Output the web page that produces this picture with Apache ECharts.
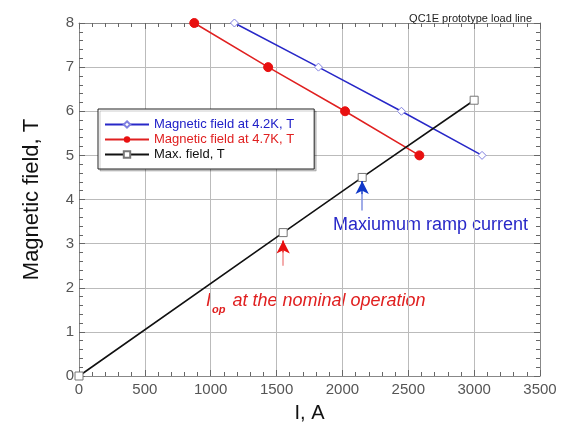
<!DOCTYPE html>
<html lang="en">
<head>
    <meta charset="UTF-8">
    <title>QC1E prototype load line</title>
    <script src="https://cdn.jsdelivr.net/npm/echarts@6/dist/echarts.min.js"></script>
    <style>
        html, body { margin: 0; padding: 0; background: #fff; }
    </style>
</head>
<body>
<div id="main" style="width: 569px;height:426px;"></div>

<script type="text/javascript">
    // data
    var current42 = [1180, 1818, 2448, 3060];
    var field42 = [8, 7, 6, 5];
    var current47 = [875, 1436, 2020, 2584];
    var field47 = [8, 7, 6, 5];
    var currentMax = [0, 1550, 2150, 3000];
    var fieldMax = [0, 3.25, 4.5, 6.25];
    var xTicks = [0, 500, 1000, 1500, 2000, 2500, 3000, 3500];
    var yTicks = [0, 1, 2, 3, 4, 5, 6, 7, 8];
    // arrows: [x, shaft bottom, head base, tip]
    var arrowOp = [1550, 2.5, 2.8, 3.07];
    var arrowMax = [2150, 3.75, 4.12, 4.42];

    function pairs(xs, ys) {
        return xs.map(function (x, i) { return [x, ys[i]]; });
    }

    var font = 'Liberation Sans, Arial, sans-serif';

    function axisStyle(extra) {
        var base = {
            type: 'value',
            axisLine: {show: true, onZero: false, lineStyle: {color: '#888', width: 1}},
            axisTick: {show: true, inside: true, length: 6, lineStyle: {color: '#666', width: 1}},
            minorTick: {show: true, splitNumber: 5, length: 4, lineStyle: {color: '#666', width: 1}},
            splitLine: {show: false}
        };
        return Object.assign(base, extra);
    }

    function arrow(a, shaftColor, headColor) {
        return [
            [
                {coord: [a[0], a[1]], symbol: 'none', lineStyle: {color: shaftColor, width: 1.5, type: 'solid'}},
                {coord: [a[0], a[2]], symbol: 'none'}
            ],
            [
                {coord: [a[0], a[2]], symbol: 'none', lineStyle: {color: headColor, width: 1.5, type: 'solid'}},
                {coord: [a[0], a[3]], symbol: 'arrow', symbolSize: [10, 13]}
            ]
        ];
    }

    var myChart = echarts.init(document.getElementById('main'));
    var option = {
        animation: false,
        title: {
            text: 'QC1E prototype load line',
            right: 32,
            top: 8,
            textStyle: {fontFamily: font, fontSize: 11, fontWeight: 'normal', color: '#222'}
        },
        legend: {
            left: 98,
            top: 109,
            orient: 'vertical',
            itemWidth: 44,
            itemHeight: 8,
            itemGap: 2,
            padding: [9, 20, 8, 6],
            backgroundColor: '#fff',
            borderColor: '#222',
            borderWidth: 1,
            shadowColor: 'rgba(0,0,0,0.2)',
            shadowOffsetX: 2,
            shadowOffsetY: 2,
            textStyle: {fontFamily: font, fontSize: 13},
            data: [
                {name: 'Magnetic field at 4.2K, T', textStyle: {color: '#2020c8'}},
                {name: 'Magnetic field at 4.7K, T', textStyle: {color: '#e02020'}},
                {name: 'Max. field, T', textStyle: {color: '#111'}}
            ]
        },
        grid: {left: 79, right: 29, top: 23, bottom: 50, containLabel: false, outerBoundsMode: 'none'},
        xAxis: [
            axisStyle({
                min: 0, max: 3500, interval: 500,
                name: 'I, A', nameLocation: 'middle', nameGap: 27,
                nameTextStyle: {fontFamily: font, fontSize: 20, color: '#111'},
                axisLabel: {fontFamily: font, fontSize: 15, color: '#555', margin: 6,
                    formatter: function (v) { return xTicks.indexOf(v) >= 0 ? String(v) : ''; }},
                splitLine: {show: true, lineStyle: {color: '#bbb', width: 1}}
            }),
            axisStyle({
                min: 0, max: 3500, interval: 500, position: 'top',
                axisLabel: {show: false}
            })
        ],
        yAxis: [
            axisStyle({
                min: 0, max: 8, interval: 1,
                name: 'Magnetic field, T', nameLocation: 'middle', nameGap: 36,
                nameTextStyle: {fontFamily: font, fontSize: 22, color: '#111'},
                axisLabel: {fontFamily: font, fontSize: 15, color: '#555', margin: 5,
                    formatter: function (v) { return yTicks.indexOf(v) >= 0 ? String(v) : ''; }},
                splitLine: {show: true, lineStyle: {color: '#bbb', width: 1}}
            }),
            axisStyle({
                min: 0, max: 8, interval: 1, position: 'right',
                axisLabel: {show: false}
            })
        ],
        series: [
            {
                name: 'Magnetic field at 4.2K, T',
                type: 'line',
                data: pairs(current42, field42),
                symbol: 'diamond',
                symbolSize: 8,
                color: '#2828c8',
                lineStyle: {width: 1.5, color: '#2828c8'},
                itemStyle: {color: '#fff', borderColor: '#8080e0', borderWidth: 1}
            },
            {
                name: 'Magnetic field at 4.7K, T',
                type: 'line',
                data: pairs(current47, field47),
                symbol: 'circle',
                symbolSize: 9,
                color: '#e02020',
                lineStyle: {width: 1.5, color: '#e02020'},
                itemStyle: {color: '#e81010', borderColor: '#e81010'}
            },
            {
                name: 'Max. field, T',
                type: 'line',
                data: pairs(currentMax, fieldMax),
                symbol: 'rect',
                symbolSize: 8,
                color: '#111',
                lineStyle: {width: 1.6, color: '#111'},
                itemStyle: {color: '#fff', borderColor: '#777', borderWidth: 1},
                markLine: {
                    silent: true,
                    label: {show: false},
                    data: arrow(arrowOp, '#f09090', '#e81010').concat(arrow(arrowMax, '#8090e0', '#1038c8'))
                }
            }
        ],
        graphic: [
            {
                type: 'text',
                left: 333,
                top: 216,
                style: {
                    text: 'Maxiumum ramp current',
                    fontFamily: font,
                    fontSize: 18,
                    fill: '#2828c8'
                }
            },
            {
                type: 'text',
                left: 206,
                top: 292,
                style: {
                    text: '{i|I}{s|op} at the nominal operation',
                    fontFamily: font,
                    fontSize: 18,
                    fontStyle: 'italic',
                    fill: '#e02020',
                    rich: {
                        i: {fontFamily: font, fontSize: 18, fontStyle: 'italic', fill: '#e02020'},
                        s: {fontFamily: font, fontSize: 11, fontStyle: 'italic', fontWeight: 'bold', fill: '#e02020', padding: [17, 2, 0, 1]}
                    }
                }
            }
        ]
    };

    myChart.setOption(option);
</script>
</body>
</html>
